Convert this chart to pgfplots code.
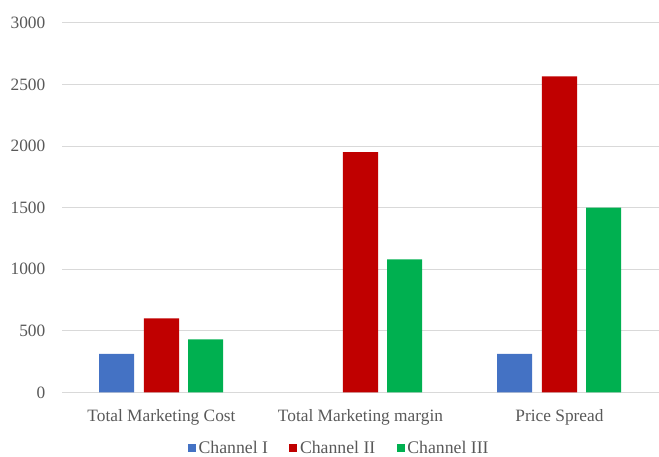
\documentclass[border=0pt]{standalone}
\usepackage{pgfplots}
\pgfplotsset{compat=1.18}
\usepackage{fontspec}
\setmainfont{Liberation Serif}
\definecolor{cI}{HTML}{4472C4}
\definecolor{cII}{HTML}{C00000}
\definecolor{cIII}{HTML}{00B050}
\definecolor{txt}{HTML}{595959}
\definecolor{grd}{HTML}{D9D9D9}
\begin{document}
\begin{tikzpicture}
\path[use as bounding box] (-46.5pt,-47.8pt) rectangle (447.75pt,294.25pt);
\begin{axis}[
  scale only axis,
  width=447.75pt, height=277pt,
  xmin=-0.5, xmax=2.5,
  ymin=0, ymax=3000,
  ytick={0,500,...,3000},
  xtick={0,1,2},
  xticklabels={Total Marketing Cost, Total Marketing margin, Price Spread},
  ybar, bar width=0.176,
  axis y line*=left,
  y axis line style={draw=none},
  axis x line*=bottom,
  x axis line style={grd, -, line width=0.75pt},
  ymajorgrids, major grid style={grd, line width=0.75pt},
  major tick length=0pt,
  tick style={draw=none},
  font=\fontsize{13}{15}\selectfont,
  ticklabel style={text=txt},
  /pgf/number format/assume math mode=true,
  /pgf/number format/1000 sep={},
  yticklabel style={anchor=east, xshift=-9pt},
  xticklabel style={yshift=-9pt},
  legend style={at={(0.465,-0.118)}, anchor=north, draw=none, fill=none,
    legend columns=3, text=txt, font=\fontsize{13.3}{15}\selectfont,
    /tikz/every even column/.append style={column sep=14pt}},
  legend image code/.code={\fill[#1] (-1.5pt,-2.8pt) rectangle (4.5pt,3.2pt);},
]
\addplot[fill=cI, draw=none, bar shift=-0.225] coordinates {(0,313) (2,313)};
\addplot[fill=cII, draw=none, bar shift=0] coordinates {(0,601) (1,1951) (2,2567)};
\addplot[fill=cIII, draw=none, bar shift=0.222] coordinates {(0,431) (1,1081) (2,1501)};
\legend{Channel I, Channel II, Channel III}
\end{axis}
\end{tikzpicture}
\end{document}
